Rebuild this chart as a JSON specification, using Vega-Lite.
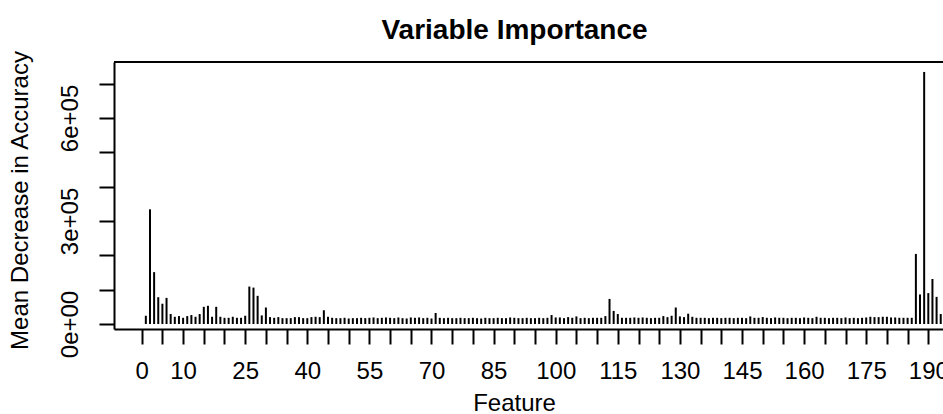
{
  "$schema": "https://vega.github.io/schema/vega-lite/v6.json",
  "autosize": "none",
  "width": 829,
  "height": 267,
  "padding": {"left": 114, "top": 62, "right": 0, "bottom": 85},
  "background": "white",
  "title": {
    "text": "Variable Importance",
    "font": "Liberation Sans",
    "fontSize": 28,
    "fontWeight": "bold",
    "color": "black",
    "anchor": "middle",
    "baseline": "alphabetic",
    "offset": 23,
    "dx": -14,
    "dy": 40
  },
  "config": {
    "view": {"stroke": null},
    "axis": {
      "grid": false,
      "domainColor": "black",
      "domainWidth": 2,
      "tickColor": "black",
      "tickWidth": 2,
      "tickSize": 15,
      "labelColor": "black",
      "titleColor": "black",
      "labelFont": "Liberation Sans",
      "titleFont": "Liberation Sans",
      "labelFontSize": 24,
      "titleFontSize": 24,
      "titleFontWeight": "normal",
      "labelOverlap": false,
      "labelFlush": false,
      "labelBound": false
    }
  },
  "resolve": {"axis": {"y": "independent"}},
  "data": {
    "values": [
      {"f":1,"v":24000},{"f":2,"v":334000},{"f":3,"v":151000},{"f":4,"v":78000},{"f":5,"v":59000},
      {"f":6,"v":76000},{"f":7,"v":29000},{"f":8,"v":21000},{"f":9,"v":23000},{"f":10,"v":18000},
      {"f":11,"v":23000},{"f":12,"v":26000},{"f":13,"v":21000},{"f":14,"v":29000},{"f":15,"v":50000},
      {"f":16,"v":53000},{"f":17,"v":21000},{"f":18,"v":50000},{"f":19,"v":21000},{"f":20,"v":18000},
      {"f":21,"v":18000},{"f":22,"v":21000},{"f":23,"v":18000},{"f":24,"v":18000},{"f":25,"v":24000},
      {"f":26,"v":109000},{"f":27,"v":106000},{"f":28,"v":82000},{"f":29,"v":25000},{"f":30,"v":48000},
      {"f":31,"v":20000},{"f":32,"v":18000},{"f":33,"v":20000},{"f":34,"v":17000},{"f":35,"v":17000},
      {"f":36,"v":17000},{"f":37,"v":20000},{"f":38,"v":20000},{"f":39,"v":17000},{"f":40,"v":17000},
      {"f":41,"v":20000},{"f":42,"v":21000},{"f":43,"v":20000},{"f":44,"v":40000},{"f":45,"v":21000},
      {"f":46,"v":18000},{"f":47,"v":17000},{"f":48,"v":17000},{"f":49,"v":18000},{"f":50,"v":16000},
      {"f":51,"v":17000},{"f":52,"v":17000},{"f":53,"v":18000},{"f":54,"v":17000},{"f":55,"v":18000},
      {"f":56,"v":19000},{"f":57,"v":17000},{"f":58,"v":18000},{"f":59,"v":19000},{"f":60,"v":18000},
      {"f":61,"v":17000},{"f":62,"v":19000},{"f":63,"v":17000},{"f":64,"v":16000},{"f":65,"v":19000},
      {"f":66,"v":18000},{"f":67,"v":19000},{"f":68,"v":17000},{"f":69,"v":18000},{"f":70,"v":16000},
      {"f":71,"v":32000},{"f":72,"v":18000},{"f":73,"v":17000},{"f":74,"v":18000},{"f":75,"v":17000},
      {"f":76,"v":17000},{"f":77,"v":18000},{"f":78,"v":17000},{"f":79,"v":17000},{"f":80,"v":18000},
      {"f":81,"v":17000},{"f":82,"v":16000},{"f":83,"v":18000},{"f":84,"v":17000},{"f":85,"v":17000},
      {"f":86,"v":18000},{"f":87,"v":17000},{"f":88,"v":17000},{"f":89,"v":19000},{"f":90,"v":18000},
      {"f":91,"v":17000},{"f":92,"v":17000},{"f":93,"v":18000},{"f":94,"v":17000},{"f":95,"v":17000},
      {"f":96,"v":18000},{"f":97,"v":17000},{"f":98,"v":18000},{"f":99,"v":26000},{"f":100,"v":19000},
      {"f":101,"v":19000},{"f":102,"v":17000},{"f":103,"v":20000},{"f":104,"v":18000},{"f":105,"v":22000},
      {"f":106,"v":17000},{"f":107,"v":18000},{"f":108,"v":17000},{"f":109,"v":18000},{"f":110,"v":18000},
      {"f":111,"v":18000},{"f":112,"v":23000},{"f":113,"v":73000},{"f":114,"v":38000},{"f":115,"v":29000},
      {"f":116,"v":18000},{"f":117,"v":18000},{"f":118,"v":18000},{"f":119,"v":19000},{"f":120,"v":18000},
      {"f":121,"v":19000},{"f":122,"v":18000},{"f":123,"v":17000},{"f":124,"v":18000},{"f":125,"v":18000},
      {"f":126,"v":23000},{"f":127,"v":20000},{"f":128,"v":24000},{"f":129,"v":48000},{"f":130,"v":22000},
      {"f":131,"v":20000},{"f":132,"v":30000},{"f":133,"v":21000},{"f":134,"v":18000},{"f":135,"v":18000},
      {"f":136,"v":18000},{"f":137,"v":17000},{"f":138,"v":18000},{"f":139,"v":18000},{"f":140,"v":17000},
      {"f":141,"v":18000},{"f":142,"v":18000},{"f":143,"v":17000},{"f":144,"v":18000},{"f":145,"v":18000},
      {"f":146,"v":17000},{"f":147,"v":22000},{"f":148,"v":18000},{"f":149,"v":18000},{"f":150,"v":20000},
      {"f":151,"v":18000},{"f":152,"v":17000},{"f":153,"v":19000},{"f":154,"v":18000},{"f":155,"v":18000},
      {"f":156,"v":17000},{"f":157,"v":18000},{"f":158,"v":18000},{"f":159,"v":17000},{"f":160,"v":19000},
      {"f":161,"v":18000},{"f":162,"v":17000},{"f":163,"v":21000},{"f":164,"v":18000},{"f":165,"v":18000},
      {"f":166,"v":17000},{"f":167,"v":18000},{"f":168,"v":18000},{"f":169,"v":17000},{"f":170,"v":19000},
      {"f":171,"v":17000},{"f":172,"v":18000},{"f":173,"v":17000},{"f":174,"v":18000},{"f":175,"v":19000},
      {"f":176,"v":21000},{"f":177,"v":20000},{"f":178,"v":20000},{"f":179,"v":21000},{"f":180,"v":21000},
      {"f":181,"v":19000},{"f":182,"v":19000},{"f":183,"v":18000},{"f":184,"v":18000},{"f":185,"v":18000},
      {"f":186,"v":18000},{"f":187,"v":204000},{"f":188,"v":86000},{"f":189,"v":734000},{"f":190,"v":90000},
      {"f":191,"v":131000},{"f":192,"v":79000},{"f":193,"v":29000}
    ]
  },
  "layer": [
    {
      "mark": {"type": "rule", "color": "black", "strokeWidth": 2, "clip": true},
      "encoding": {
        "x": {
          "field": "f",
          "type": "quantitative",
          "scale": {"domain": [-6.69, 193.55], "nice": false, "zero": false},
          "axis": {
            "title": "Feature",
            "values": [0,5,10,15,20,25,30,35,40,45,50,55,60,65,70,75,80,85,90,95,100,105,110,115,120,125,130,135,140,145,150,155,160,165,170,175,180,185,190],
            "labelExpr": "datum.value == 0 || (datum.value - 10) % 15 == 0 ? datum.label : ''",
            "labelBaseline": "alphabetic",
            "labelPadding": 34,
            "titleX": 400,
            "titleY": 81,
            "titleBaseline": "alphabetic",
            "titleAlign": "center"
          }
        },
        "y": {
          "field": "v",
          "type": "quantitative",
          "scale": {"domain": [-14600, 763000], "nice": false, "zero": false},
          "axis": {
            "title": "Mean Decrease in Accuracy",
            "values": [0,100000,200000,300000,400000,500000,600000,700000],
            "labelExpr": "datum.value == 0 ? '0e+00' : datum.value == 300000 ? '3e+05' : datum.value == 600000 ? '6e+05' : ''",
            "labelAngle": 270,
            "labelAlign": "center",
            "labelBaseline": "alphabetic",
            "labelPadding": 22,
            "titleAngle": 270,
            "titleX": -87,
            "titleY": 138,
            "titleBaseline": "alphabetic",
            "titleAlign": "center"
          }
        },
        "y2": {"datum": 0}
      }
    },
    {
      "mark": {"type": "rule", "color": "black", "strokeWidth": 2, "clip": false},
      "encoding": {"y": {"datum": 763000, "axis": null}}
    }
  ]
}
